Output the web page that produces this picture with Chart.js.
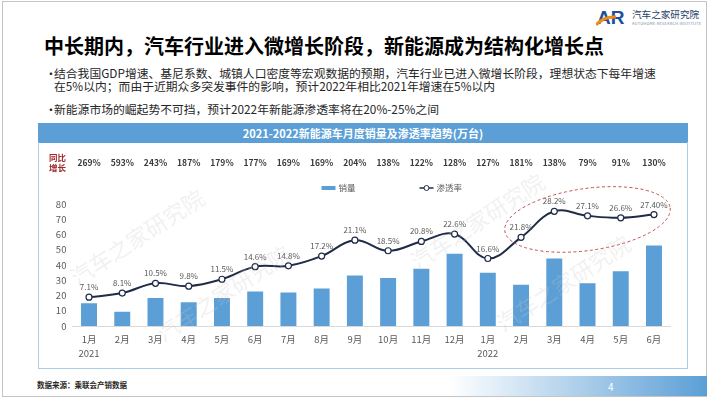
<!DOCTYPE html>
<html>
<head>
<meta charset="utf-8">
<script src="https://cdn.jsdelivr.net/npm/chart.js@4.4.1/dist/chart.umd.min.js"></script>
<style>
    body { margin: 0; width: 710px; height: 399px; position: relative; background: #fff; overflow: hidden;
        font-family: "Noto Sans CJK SC", "Noto Sans", sans-serif; }
    .frame { position: absolute; left: 2px; top: 1px; width: 705px; height: 396px; border: 1px solid #c4c4c4; box-sizing: border-box; }
    .title { position: absolute; left: 44px; top: 32px; font-size: 20px; font-weight: bold; color: #000; white-space: nowrap; line-height: 28px; }
    .bullets { position: absolute; left: 46px; top: 67px; font-size: 11.8px; color: #262626; line-height: 12.5px; }
    .bullets div { position: relative; padding-left: 8px; margin-bottom: 11px; white-space: nowrap; }
    .bullets div::before { content: "•"; position: absolute; left: -1px; top: 0; }
    .banner { position: absolute; left: 38px; top: 123px; width: 650px; height: 20px; background: #5b9fd6;
        color: #fff; font-size: 11px; font-weight: bold; text-align: center; line-height: 20px; }
    .panel { position: absolute; left: 38px; top: 142px; width: 650px; height: 227px; border: 1px solid #a9cde8; border-top: none; box-sizing: border-box; }
    #chartBox { position: absolute; left: 38px; top: 143px; width: 650px; height: 226px; }
    .source { position: absolute; left: 37px; top: 379px; font-size: 7.5px; font-weight: bold; color: #262626; }
    .pagebar { position: absolute; left: 450px; top: 376px; width: 257px; height: 20px;
        background: linear-gradient(to right, rgba(91,159,214,0), rgba(91,159,214,0.55) 55%, #5b9fd6); }
    .pageno { position: absolute; left: 608px; top: 379px; font-size: 10px; color: #fff; }
    .logo { position: absolute; left: 596px; top: 7px; }
    .logoText { position: absolute; left: 632px; top: 7px; font-size: 9.6px; color: #2a3f6b; white-space: nowrap; }
    .logoSub { position: absolute; left: 632px; top: 20px; font-size: 4px; color: #7a8aa8; white-space: nowrap; letter-spacing: 0.2px; }
    .wm { position: absolute; font-size: 22px; color: rgba(200,200,200,0.25); white-space: nowrap; transform-origin: left center; pointer-events: none; }
</style>
</head>
<body>
<div class="frame"></div>

<svg class="logo" width="36" height="20" viewBox="0 0 36 20">
    <text x="1" y="17" font-family="Liberation Sans, Arial" font-weight="bold" font-size="19" fill="#1c4f9c">AR</text>
    <path d="M0 18 Q8 9 20 10" stroke="#f08a1c" stroke-width="3" fill="none"/>
</svg>
<div class="logoText">汽车之家研究院</div>
<div class="logoSub">AUTOHOME RESEARCH INSTITUTE</div>

<div class="title">中长期内，汽车行业进入微增长阶段，新能源成为结构化增长点</div>

<div class="bullets">
    <div>结合我国GDP增速、基尼系数、城镇人口密度等宏观数据的预期，汽车行业已进入微增长阶段，理想状态下每年增速<br>在5%以内；而由于近期众多突发事件的影响，预计2022年相比2021年增速在5%以内</div>
    <div>新能源市场的崛起势不可挡，预计2022年新能源渗透率将在20%-25%之间</div>
</div>

<div class="banner">2021-2022新能源车月度销量及渗透率趋势(万台)</div>
<div class="panel"></div>
<div id="chartBox"><canvas id="nevChart"></canvas></div>

<div class="source">数据来源：乘联会产销数据</div>
<div class="pagebar"></div>
<div class="pageno">4</div>

<div class="wm" style="left:72px; top:262px; transform: rotate(-33deg);">汽车之家研究院</div>
<div class="wm" style="left:158px; top:318px; transform: rotate(-33deg);">汽车之家研究院</div>
<div class="wm" style="left:412px; top:246px; transform: rotate(-33deg);">汽车之家研究院</div>
<div class="wm" style="left:498px; top:308px; transform: rotate(-33deg);">汽车之家研究院</div>

<script>
// data
const months = ['1月', '2月', '3月', '4月', '5月', '6月', '7月', '8月', '9月', '10月', '11月', '12月',
                '1月', '2月', '3月', '4月', '5月', '6月'];
const yearTicks = ['2021', '', '', '', '', '', '', '', '', '', '', '', '2022', '', '', '', '', ''];
const sales = [15.0, 9.3, 18.4, 15.6, 18.4, 22.6, 21.9, 24.6, 33.1, 31.5, 37.5, 47.3,
               35.0, 27.0, 44.3, 28.0, 35.9, 52.8];
const penetration = [7.1, 8.1, 10.5, 9.8, 11.5, 14.6, 14.8, 17.2, 21.1, 18.5, 20.8, 22.6,
                     16.6, 21.8, 28.2, 27.1, 26.6, 27.4];
const penetrationText = ['7.1%', '8.1%', '10.5%', '9.8%', '11.5%', '14.6%', '14.8%', '17.2%', '21.1%', '18.5%',
                         '20.8%', '22.6%', '16.6%', '21.8%', '28.2%', '27.1%', '26.6%', '27.40%'];
const yoyGrowth = ['269%', '593%', '243%', '187%', '179%', '177%', '169%', '169%', '204%', '138%',
                   '122%', '128%', '127%', '181%', '138%', '79%', '91%', '130%'];
const highlightFrom = 13, highlightTo = 17;

const BAR = '#5b9fd6';
const LINE = '#1f2b47';
const FONT = '"Noto Sans CJK SC", "Noto Sans", sans-serif';

// labels, yoy row, legend and the highlight ellipse
const extras = {
    id: 'extras',
    afterDatasetsDraw(chart) {
        const ctx = chart.ctx;
        const x = chart.scales.x;
        const y2 = chart.scales.y2;
        const area = chart.chartArea;
        ctx.save();

        // point labels
        ctx.font = '8px ' + FONT;
        ctx.fillStyle = '#595959';
        ctx.textAlign = 'center';
        ctx.textBaseline = 'middle';
        const pts = chart.getDatasetMeta(1).data;
        pts.forEach((p, i) => ctx.fillText(penetrationText[i], p.x, p.y - 10));

        // yoy row
        ctx.font = 'bold 8.5px ' + FONT;
        ctx.fillStyle = '#3a3a3a';
        yoyGrowth.forEach((t, i) => ctx.fillText(t, x.getPixelForValue(i), 20));
        ctx.fillStyle = '#9e2a2b';
        ctx.font = 'bold 8.5px ' + FONT;
        ctx.fillText('同比', 19.5, 15);
        ctx.fillText('增长', 19.5, 25);

        // legend
        const cx = (area.left + area.right) / 2;
        ctx.fillStyle = BAR;
        ctx.fillRect(cx - 50, 43, 14, 4);
        ctx.fillStyle = '#595959';
        ctx.font = '8.5px ' + FONT;
        ctx.textAlign = 'left';
        ctx.fillText('销量', cx - 33, 45);
        ctx.strokeStyle = LINE;
        ctx.lineWidth = 1.5;
        ctx.beginPath();
        ctx.moveTo(cx + 48, 45);
        ctx.lineTo(cx + 62, 45);
        ctx.stroke();
        ctx.beginPath();
        ctx.arc(cx + 55, 45, 2.5, 0, Math.PI * 2);
        ctx.fillStyle = '#fff';
        ctx.fill();
        ctx.lineWidth = 1;
        ctx.stroke();
        ctx.fillStyle = '#595959';
        ctx.fillText('渗透率', cx + 65, 45);

        // dashed ellipse round the 2022 Feb-Jun points
        const ex = (x.getPixelForValue(highlightFrom) + x.getPixelForValue(highlightTo)) / 2;
        const rx = (x.getPixelForValue(highlightTo) - x.getPixelForValue(highlightFrom)) / 2 + 17;
        const ey = y2.getPixelForValue(26.2);
        ctx.strokeStyle = '#c0504d';
        ctx.lineWidth = 1;
        ctx.setLineDash([3, 2.5]);
        ctx.beginPath();
        ctx.ellipse(ex, ey, rx, 31, -8 * Math.PI / 180, 0, Math.PI * 2);
        ctx.stroke();
        ctx.restore();
    }
};

const chart = new Chart(document.getElementById('nevChart'), {
    data: {
        labels: months.map((m, i) => yearTicks[i] ? [m, yearTicks[i]] : m),
        datasets: [{
            type: 'bar',
            label: '销量',
            data: sales,
            backgroundColor: BAR,
            barPercentage: 0.48,
            categoryPercentage: 1,
            yAxisID: 'y',
            order: 2
        }, {
            type: 'line',
            label: '渗透率',
            data: penetration,
            borderColor: LINE,
            borderWidth: 2,
            tension: 0.4,
            pointRadius: 3,
            pointBackgroundColor: '#fff',
            pointBorderColor: LINE,
            pointBorderWidth: 1.2,
            yAxisID: 'y2',
            order: 1
        }]
    },
    options: {
        responsive: true,
        maintainAspectRatio: false,
        animation: false,
        layout: { padding: { left: 0, right: 17.4, top: 61, bottom: 0 } },
        scales: {
            x: {
                grid: { display: false, drawTicks: false },
                border: { display: true, color: '#d9d9d9' },
                ticks: { color: '#595959', font: { size: 9.5, family: FONT, lineHeight: 1.5 }, padding: 6, maxRotation: 0, autoSkip: false },
                afterFit: s => { s.height = 43; }
            },
            y: {
                min: 0,
                max: 80,
                ticks: { stepSize: 10, color: '#595959', font: { size: 9.5, family: FONT }, padding: 6 },
                grid: { display: false, drawTicks: false },
                border: { display: false },
                afterFit: s => { s.width = 34.4; }
            },
            y2: { min: 0, max: 30, display: false }
        },
        plugins: {
            legend: { display: false },
            tooltip: { enabled: false }
        }
    },
    plugins: [extras]
});
</script>
</body>
</html>
